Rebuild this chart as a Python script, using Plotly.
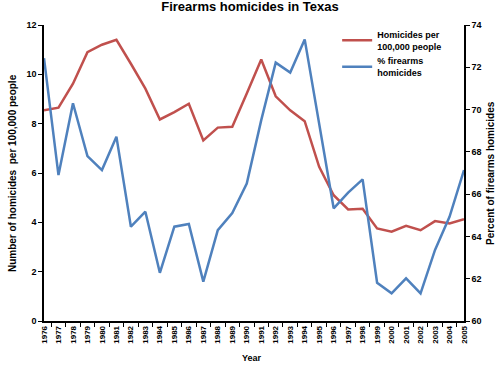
import plotly.graph_objects as go

years = [str(y) for y in range(1976, 2006)]
homicide_rate = [8.54, 8.65, 9.62, 10.9, 11.2, 11.4, 10.43, 9.42, 8.17, 8.47, 8.81, 7.32,
                 7.84, 7.87, 9.22, 10.6, 9.11, 8.54, 8.1, 6.25, 5.1, 4.52, 4.55, 3.75,
                 3.62, 3.86, 3.68, 4.05, 3.95, 4.13]
pct_firearms = [72.43, 66.9, 70.3, 67.8, 67.14, 68.72, 64.46, 65.17, 62.28, 64.46, 64.59, 61.86,
                64.3, 65.1, 66.5, 69.5, 72.22, 71.75, 73.32, 69.35, 65.33, 66.07, 66.7, 61.81,
                61.31, 62.02, 61.31, 63.36, 64.93, 67.14]

FONT = "Liberation Sans"
tf = dict(size=9, family=FONT, weight="bold", color="black")

fig = go.Figure()
fig.add_trace(go.Scatter(x=years, y=homicide_rate, mode="lines",
                         name="Homicides per<br>100,000 people",
                         line=dict(color="#C0504D", width=2.5)))
fig.add_trace(go.Scatter(x=years, y=pct_firearms, mode="lines",
                         name="% firearms<br>homicides", yaxis="y2",
                         line=dict(color="#4F81BD", width=2.5)))

fig.update_layout(
    width=500, height=365,
    margin=dict(l=44, r=36, t=25, b=44),
    paper_bgcolor="white", plot_bgcolor="white",
    font=dict(family=FONT, size=9, color="black"),
    title=dict(text="<b>Firearms homicides in Texas</b>", x=0.5, xanchor="center",
               y=0.995, yanchor="top", font=dict(size=13, family=FONT)),
    showlegend=True,
    legend=dict(x=0.698, y=1.01, xanchor="left", yanchor="top",
                bgcolor="rgba(0,0,0,0)", font=dict(size=9, family=FONT, weight="bold"),
                itemwidth=30, tracegroupgap=6),
    xaxis=dict(type="category", tickangle=-90, tickson="boundaries",
               showline=True, linecolor="black", linewidth=1.5,
               ticks="outside", ticklen=4, tickcolor="black",
               tickfont=dict(size=8, family=FONT, weight="bold", color="black"),
               showgrid=False, zeroline=False),
    yaxis=dict(range=[0, 12], dtick=2, showline=True, linecolor="black", linewidth=1.5,
               ticks="outside", ticklen=4, tickcolor="black", showgrid=False, zeroline=False,
               tickfont=tf),
    yaxis2=dict(range=[60, 74], dtick=2, overlaying="y", side="right",
                showline=True, linecolor="black", linewidth=1.5,
                ticks="outside", ticklen=4, tickcolor="black", showgrid=False, zeroline=False,
                tickfont=tf),
    annotations=[
        dict(text="<b>Number of homicides  per 100,000 people</b>", xref="paper", yref="paper",
             x=-0.076, y=0.5, xanchor="center", yanchor="middle", textangle=-90,
             showarrow=False, font=dict(size=10, family=FONT)),
        dict(text="<b>Percent of firearms homicides</b>", xref="paper", yref="paper",
             x=1.062, y=0.5, xanchor="center", yanchor="middle", textangle=-90,
             showarrow=False, font=dict(size=10, family=FONT)),
        dict(text="<b>Year</b>", xref="paper", yref="paper",
             x=0.495, y=-0.125, xanchor="center", yanchor="middle",
             showarrow=False, font=dict(size=9, family=FONT)),
    ],
)

fig.write_html("out.html", config={"displayModeBar": False},
               post_script="document.body.style.margin='0';")
